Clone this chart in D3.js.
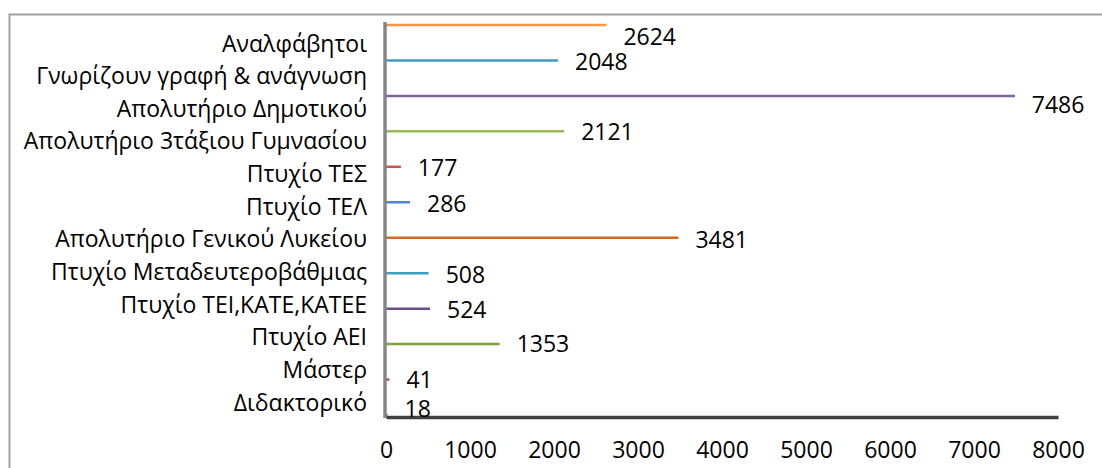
<!DOCTYPE html>
<html>
<head>
<meta charset="utf-8">
<script src="https://cdn.jsdelivr.net/npm/d3@7"></script>
<style>
  html, body { margin: 0; padding: 0; background: #fff; }
  svg { display: block; }
  text { font-family: "Open Sans", "Noto Sans", sans-serif; fill: #000; }
</style>
</head>
<body>
<svg id="chart" width="1102" height="468"></svg>
<script>
// ---- data ----
const categories = [
  "Αναλφάβητοι",
  "Γνωρίζουν γραφή & ανάγνωση",
  "Απολυτήριο Δημοτικού",
  "Απολυτήριο 3τάξιου Γυμνασίου",
  "Πτυχίο ΤΕΣ",
  "Πτυχίο ΤΕΛ",
  "Απολυτήριο Γενικού Λυκείου",
  "Πτυχίο Μεταδευτεροβάθμιας ",
  "Πτυχίο ΤΕΙ,ΚΑΤΕ,ΚΑΤΕΕ",
  "Πτυχίο ΑΕΙ",
  "Μάστερ",
  "Διδακτορικό"
];
const values = [2624, 2048, 7486, 2121, 177, 286, 3481, 508, 524, 1353, 41, 18];
const xTicks = [0, 1000, 2000, 3000, 4000, 5000, 6000, 7000, 8000];

// ---- styles ----
const colors = ["#F79646", "#3E9EBE", "#8064A2", "#9BBB59", "#D0504D", "#4F86CF",
                "#D2691E", "#3E9EBE", "#6A4E8C", "#7FA33A", "#C0504D", "#4F81BD"];
const labelNudge = [12, 1, 9, 1, 1, 2, 2, 2, 1, 0, 0, -6];
const fontSize = 23;

const svg = d3.select("#chart");

// outer frame
svg.append("rect")
  .attr("x", 9.5).attr("y", 14.5)
  .attr("width", 1200).attr("height", 600)
  .attr("fill", "none").attr("stroke", "#a0a0a0").attr("stroke-width", 2);

const x = d3.scaleLinear().domain([0, 8000]).range([386, 1058]);
const yBar = d3.scalePoint().domain(categories).range([25, 415]);
const yLab = d3.scalePoint().domain(categories).range([43, 402]);

// bars (thin lines)
svg.append("g").selectAll("line")
  .data(categories)
  .join("line")
  .attr("x1", x(0))
  .attr("x2", (d, i) => x(values[i]))
  .attr("y1", d => yBar(d))
  .attr("y2", d => yBar(d))
  .attr("stroke", (d, i) => colors[i])
  .attr("stroke-width", 2.5);

// category axis (labels)
const yAxis = svg.append("g")
  .attr("transform", "translate(367,0)")
  .call(d3.axisLeft(yLab).tickSize(0).tickPadding(0));
yAxis.select(".domain").remove();
yAxis.selectAll("text")
  .style("font-size", fontSize + "px")
  .style("font-family", "'Open Sans', sans-serif")
  .attr("fill", "#000")
  .attr("dy", "0.35em");

// vertical axis line
svg.append("line")
  .attr("x1", 385).attr("x2", 385)
  .attr("y1", 22).attr("y2", 418)
  .attr("stroke", "#868686").attr("stroke-width", 3.5);

// horizontal axis
const xAxis = svg.append("g")
  .attr("transform", "translate(0,417)")
  .call(d3.axisBottom(x).tickValues(xTicks).tickSize(0).tickPadding(25).tickFormat(d3.format("d")));
xAxis.select(".domain")
  .attr("stroke", "#404040").attr("stroke-width", 3.5);
xAxis.selectAll("text")
  .style("font-size", fontSize + "px")
  .style("font-family", "'Open Sans', sans-serif")
  .attr("fill", "#000");

// value labels
svg.append("g").selectAll("text")
  .data(categories)
  .join("text")
  .attr("x", (d, i) => x(values[i]) + 17)
  .attr("y", (d, i) => yBar(d) + labelNudge[i])
  .attr("dy", "0.35em")
  .style("font-size", fontSize + "px")
  .text((d, i) => values[i]);
</script>
</body>
</html>
